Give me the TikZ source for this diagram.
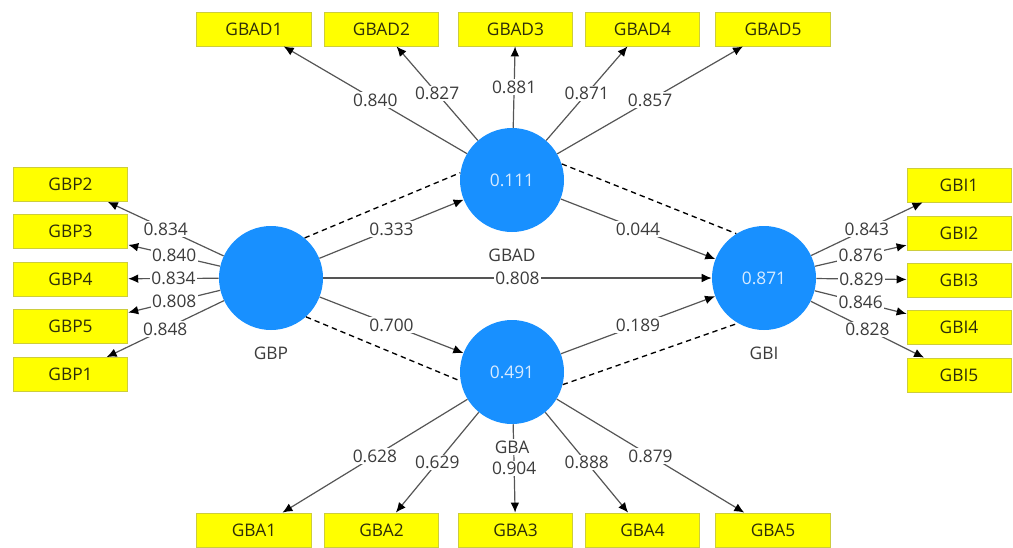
\documentclass[tikz,border=0pt]{standalone}
\usepackage{fontspec}
\setmainfont{Open Sans}
\usetikzlibrary{arrows.meta}
\definecolor{pblue}{RGB}{24,144,255}
\definecolor{pyellow}{RGB}{255,255,0}
\definecolor{pyedge}{RGB}{205,205,60}
\definecolor{linegray}{RGB}{85,85,85}
\definecolor{numgray}{RGB}{60,60,60}
\definecolor{boxtext}{RGB}{45,45,10}
\definecolor{lvtext}{RGB}{215,235,255}
\begin{document}
\begin{tikzpicture}[x=0.75pt,y=-0.75pt,
  fnt/.style={font=\fontsize{13}{15}\selectfont},
  lv/.style={circle,fill=pblue,minimum size=78pt,inner sep=0pt,text=lvtext,fnt},
  ind/.style={rectangle,fill=pyellow,draw=pyedge,line width=0.6pt,minimum width=86pt,minimum height=25.5pt,inner sep=0pt,text=boxtext,fnt},
  indr/.style={ind,minimum width=78pt},
  ld/.style={draw=linegray,line width=0.9pt,-{Latex[length=7.5pt,width=6.5pt,color=black]}},
  num/.style={fill=white,inner sep=1pt,text=numgray,fnt},
  dsh/.style={draw=black,line width=1pt,dash pattern=on 4pt off 3pt},
  nm/.style={fill=white,inner sep=1pt,text=numgray,fnt}]
\useasboundingbox (0,0) rectangle (1013,547);
% latent variables
\node[lv] (GBP) at (271,278) {};
\node[lv] (GBAD) at (512,180) {0.111};
\node[lv] (GBA) at (512,372) {0.491};
\node[lv] (GBI) at (764,278) {0.871};
% top indicators
\node[ind] (GBAD1) at (254,29) {GBAD1};
\node[ind] (GBAD2) at (381.5,29) {GBAD2};
\node[ind] (GBAD3) at (515.5,29) {GBAD3};
\node[ind] (GBAD4) at (642.5,29) {GBAD4};
\node[ind] (GBAD5) at (773,29) {GBAD5};
% bottom indicators
\node[ind] (GBA1) at (254,530) {GBA1};
\node[ind] (GBA2) at (381.5,530) {GBA2};
\node[ind] (GBA3) at (515.5,530) {GBA3};
\node[ind] (GBA4) at (642.5,530) {GBA4};
\node[ind] (GBA5) at (773,530) {GBA5};
% left indicators
\node[ind] (GBP2) at (70.5,184.5) {GBP2};
\node[ind] (GBP3) at (70.5,231.5) {GBP3};
\node[ind] (GBP4) at (70.5,279) {GBP4};
\node[ind] (GBP5) at (70.5,326.5) {GBP5};
\node[ind] (GBP1) at (70.5,374.5) {GBP1};
% right indicators
\node[indr] (GBI1) at (959,185) {GBI1};
\node[indr] (GBI2) at (959,233) {GBI2};
\node[indr] (GBI3) at (959,280) {GBI3};
\node[indr] (GBI4) at (959,327) {GBI4};
\node[indr] (GBI5) at (959,375) {GBI5};
% dashed lines
\draw[dsh] (GBP.50) -- (GBAD.172);
\draw[dsh] (GBAD.18) -- (GBI.122);
\draw[dsh] (GBP.-48) -- (GBA.190);
\draw[dsh] (GBA.-14) -- (GBI.240);
% structural paths
\draw[ld] (GBP) -- node[num]{0.333} (GBAD);
\draw[ld] (GBAD) -- node[num]{0.044} (GBI);
\draw[ld] (GBP) -- node[num]{0.808} (GBI);
\draw[ld] (GBP) -- node[num]{0.700} (GBA);
\draw[ld] (GBA) -- node[num]{0.189} (GBI);
% GBAD loadings
\draw[ld] (GBAD) -- node[num]{0.840} (GBAD1);
\draw[ld] (GBAD) -- node[num]{0.827} (GBAD2);
\draw[ld] (GBAD) -- node[num]{0.881} (GBAD3);
\draw[ld] (GBAD) -- node[num]{0.871} (GBAD4);
\draw[ld] (GBAD) -- node[num]{0.857} (GBAD5);
% GBA loadings
\draw[ld] (GBA) -- node[num]{0.628} (GBA1);
\draw[ld] (GBA) -- node[num]{0.629} (GBA2);
\draw[ld] (GBA) -- node[num]{0.904} (GBA3);
\draw[ld] (GBA) -- node[num]{0.888} (GBA4);
\draw[ld] (GBA) -- node[num]{0.879} (GBA5);
% GBP loadings
\draw[ld] (GBP) -- node[num]{0.834} (GBP2);
\draw[ld] (GBP) -- node[num]{0.840} (GBP3);
\draw[ld] (GBP) -- node[num]{0.834} (GBP4);
\draw[ld] (GBP) -- node[num]{0.808} (GBP5);
\draw[ld] (GBP) -- node[num]{0.848} (GBP1);
% GBI loadings
\draw[ld] (GBI) -- node[num]{0.843} (GBI1);
\draw[ld] (GBI) -- node[num]{0.876} (GBI2);
\draw[ld] (GBI) -- node[num]{0.829} (GBI3);
\draw[ld] (GBI) -- node[num]{0.846} (GBI4);
\draw[ld] (GBI) -- node[num]{0.828} (GBI5);
% names
\node[nm] (nGBP) at (271,353) {GBP};
\node[nm] (nGBAD) at (512,255) {GBAD};
\node[nm] (nGBA) at (512,447) {GBA};
\node[nm] (nGBI) at (764,353) {GBI};
\end{tikzpicture}
\end{document}
